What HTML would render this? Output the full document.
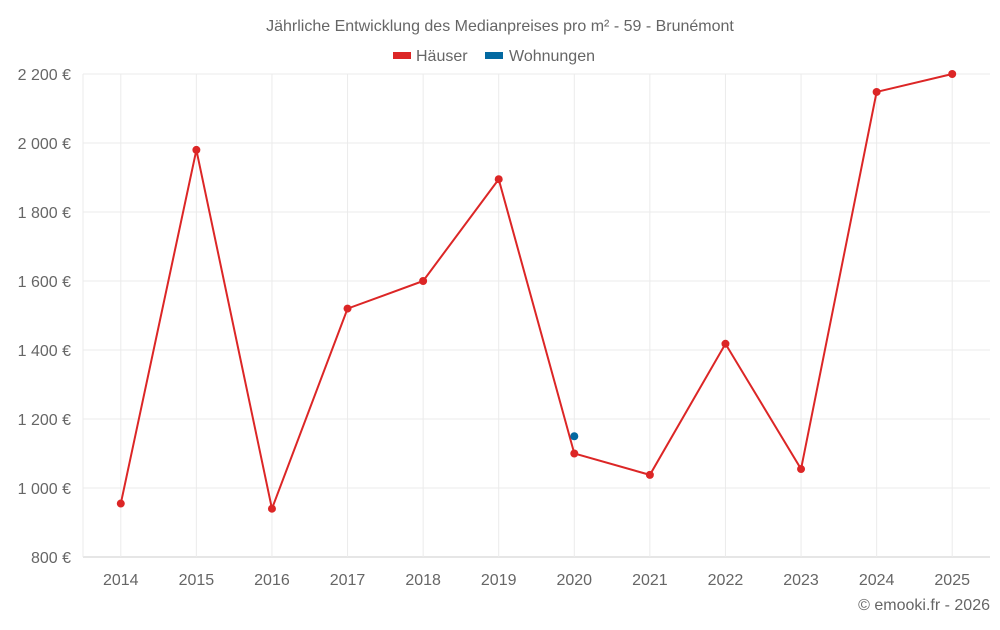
<!DOCTYPE html>
<html><head><meta charset="utf-8"><style>
body{margin:0;background:#fff;font-family:"Liberation Sans",sans-serif;}
svg text{font-family:"Liberation Sans",sans-serif;fill:#666;}
</style></head><body>
<svg width="1000" height="625">
<text x="500" y="31" text-anchor="middle" font-size="16">Jährliche Entwicklung des Medianpreises pro m² - 59 - Brunémont</text>
<g>
<rect x="393" y="52" width="18" height="7" fill="#dc2626"/>
<text x="416" y="61" font-size="16">Häuser</text>
<rect x="485" y="52" width="18" height="7" fill="#0369a1"/>
<text x="509" y="61" font-size="16">Wohnungen</text>
</g>
<g id="grid"></g><g id="axes"></g><g id="marks"></g>
<text x="990" y="610" text-anchor="end" font-size="16">© emooki.fr - 2026</text>
</svg>
<script>
const categories=["2014","2015","2016","2017","2018","2019","2020","2021","2022","2023","2024","2025"];
const haeuser=[955,1980,940,1520,1600,1895,1100,1038,1418,1055,2148,2200];
const wohnungen=[null,null,null,null,null,null,1150,null,null,null,null,null];
const yTicks=[800,1000,1200,1400,1600,1800,2000,2200];
const yTickLabels=["800 €","1 000 €","1 200 €","1 400 €","1 600 €","1 800 €","2 000 €","2 200 €"];
const L=83,R=990,T=74,B=557,ymin=800,ymax=2200;
const NS="http://www.w3.org/2000/svg";
function x(i){return L+(R-L)/categories.length*(i+0.5);}
function y(v){return B-(v-ymin)/(ymax-ymin)*(B-T);}
function mk(t,a,p){const e=document.createElementNS(NS,t);for(const k in a)e.setAttribute(k,a[k]);p.appendChild(e);return e;}
const g=document.getElementById('grid'),ax=document.getElementById('axes'),m=document.getElementById('marks');
yTicks.forEach((v,i)=>{
 const l=mk('line',{x1:L,x2:R,y1:y(v),y2:y(v),stroke:i==0?'#ccc':'#ebebeb'},g);
 
 
 const t=mk('text',{x:71,y:y(v)+6,'text-anchor':'end','font-size':16},ax);t.textContent=yTickLabels[i];
 
 
});
categories.forEach((c,i)=>{
 const l=mk('line',{x1:x(i),x2:x(i),y1:T,y2:B,stroke:'#ebebeb'},g);
 
 
 const t=mk('text',{x:x(i),y:585,'text-anchor':'middle','font-size':16},ax);t.textContent=c;
 
 
});
const la=mk('line',{x1:L,x2:L,y1:T,y2:B,stroke:'#ebebeb'},g);


const pl=mk('polyline',{points:haeuser.map((v,i)=>x(i)+','+y(v)).join(' '),fill:'none',stroke:'#dc2626','stroke-width':2},m);


haeuser.forEach((v,i)=>{const c=mk('circle',{cx:x(i),cy:y(v),r:4,fill:'#dc2626'},m);
 
 });
wohnungen.forEach((v,i)=>{if(v==null)return;const c=mk('circle',{cx:x(i),cy:y(v),r:4,fill:'#0369a1'},m);
 
 });
</script>
</body></html>
